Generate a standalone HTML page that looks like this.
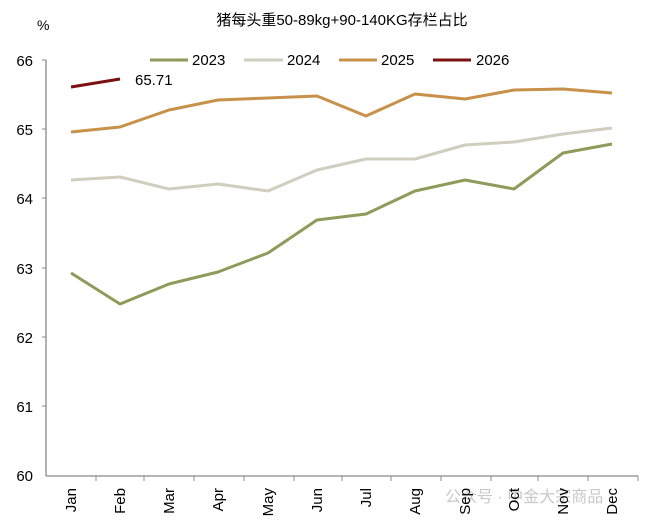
<!DOCTYPE html>
<html><head><meta charset="utf-8"><style>
body{margin:0;background:#fff}
svg text{font-family:"Liberation Sans","Noto Sans CJK SC",sans-serif;fill:#000}
</style></head><body>
<svg width="671" height="527" viewBox="0 0 671 527" xmlns="http://www.w3.org/2000/svg">
<text x="342" y="25" font-size="15" text-anchor="middle">猪每头重50-89kg+90-140KG存栏占比</text>
<text x="37" y="30" font-size="14">%</text>
<g stroke="#888" stroke-width="1.3" fill="none">
<line x1="46" y1="60" x2="46" y2="476"/>
<line x1="46" y1="476" x2="638" y2="476"/>
</g>
<g stroke="#888" stroke-width="1">
<line x1="42" y1="60" x2="46" y2="60"/><line x1="42" y1="129" x2="46" y2="129"/><line x1="42" y1="198" x2="46" y2="198"/><line x1="42" y1="268" x2="46" y2="268"/><line x1="42" y1="337" x2="46" y2="337"/><line x1="42" y1="406" x2="46" y2="406"/>
<line x1="96" y1="476" x2="96" y2="481"/><line x1="144" y1="476" x2="144" y2="481"/><line x1="194" y1="476" x2="194" y2="481"/><line x1="244" y1="476" x2="244" y2="481"/><line x1="294" y1="476" x2="294" y2="481"/><line x1="342" y1="476" x2="342" y2="481"/><line x1="391" y1="476" x2="391" y2="481"/><line x1="441" y1="476" x2="441" y2="481"/><line x1="491" y1="476" x2="491" y2="481"/><line x1="538" y1="476" x2="538" y2="481"/><line x1="588" y1="476" x2="588" y2="481"/><line x1="638" y1="476" x2="638" y2="481"/>
</g>
<g font-size="15" text-anchor="end">
<text x="33" y="66">66</text><text x="33" y="135">65</text><text x="33" y="204">64</text><text x="33" y="274">63</text><text x="33" y="343">62</text><text x="33" y="412">61</text><text x="33" y="481">60</text>
</g>
<text x="445" y="502" font-size="16" style="fill:#bbb" opacity="0.8">公众号 · 中金大宗商品</text>
<g font-size="15" text-anchor="end">
<text transform="translate(76,488) rotate(-90)">Jan</text>
<text transform="translate(125,488) rotate(-90)">Feb</text>
<text transform="translate(174,488) rotate(-90)">Mar</text>
<text transform="translate(223,488) rotate(-90)">Apr</text>
<text transform="translate(273,488) rotate(-90)">May</text>
<text transform="translate(322,488) rotate(-90)">Jun</text>
<text transform="translate(371,488) rotate(-90)">Jul</text>
<text transform="translate(420,488) rotate(-90)">Aug</text>
<text transform="translate(470,488) rotate(-90)">Sep</text>
<text transform="translate(519,488) rotate(-90)">Oct</text>
<text transform="translate(568,488) rotate(-90)">Nov</text>
<text transform="translate(617,488) rotate(-90)">Dec</text>
</g>
<g fill="none" stroke-width="3" stroke-linejoin="round">
<polyline stroke="#8f9b5a" points="71,273 120,304 169,284 218,272 268,253 317,220 366,214 415,191 465,180 514,189 563,153 612,144"/>
<polyline stroke="#cfcfc0" points="71,180 120,177 169,189 218,184 268,191 317,170 366,159 415,159 465,145 514,142 563,134 612,128"/>
<polyline stroke="#c8914a" points="71,132 120,127 169,110 218,100 268,98 317,96 366,116 415,94 465,99 514,90 563,89 612,93"/>
<polyline stroke="#7a1010" points="71,87 120,79"/>
</g>
<text x="135" y="85" font-size="15">65.71</text>
<g stroke-width="3">
<line x1="150" y1="60" x2="188" y2="60" stroke="#8f9b5a"/>
<line x1="244" y1="60" x2="283" y2="60" stroke="#cfcfc0"/>
<line x1="339" y1="60" x2="377" y2="60" stroke="#c8914a"/>
<line x1="433" y1="60" x2="471" y2="60" stroke="#7a1010"/>
</g>
<g font-size="15">
<text x="192" y="65">2023</text><text x="287" y="65">2024</text><text x="381" y="65">2025</text><text x="476" y="65">2026</text>
</g>
</svg>
</body></html>
